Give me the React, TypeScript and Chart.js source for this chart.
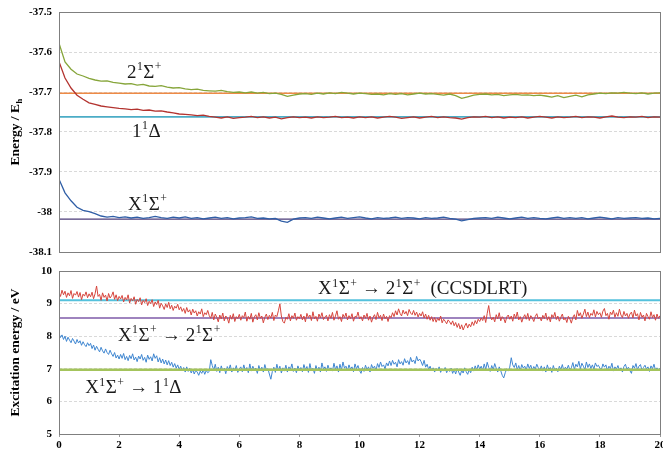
import { useEffect, useRef } from "react";
import { Chart, registerables } from "chart.js";
Chart.register(...registerables);

const FAMILY = '"Liberation Serif", "DejaVu Serif", serif';

// ---------- top panel data (t = 0, 0.2, ..., 20) ----------
const TOP_STEP = 0.2;
const TOP_2SIGMA = [
  -37.578, -37.625, -37.643, -37.655, -37.660, -37.666,
  -37.670, -37.673, -37.672, -37.676, -37.678,
  -37.680, -37.679, -37.683, -37.681, -37.685,
  -37.686, -37.684, -37.688, -37.690, -37.689,
  -37.692, -37.694, -37.693, -37.696, -37.697,
  -37.698, -37.696, -37.699, -37.701, -37.700,
  -37.702, -37.700, -37.703, -37.701, -37.704,
  -37.703, -37.706, -37.711, -37.708, -37.705,
  -37.704, -37.706, -37.703, -37.705, -37.702,
  -37.704, -37.701, -37.703, -37.705, -37.703,
  -37.704, -37.706, -37.705, -37.707, -37.704,
  -37.706, -37.704, -37.707, -37.705, -37.703,
  -37.705, -37.704, -37.706, -37.708, -37.705,
  -37.709, -37.716, -37.712, -37.708, -37.706,
  -37.705, -37.707, -37.706, -37.709, -37.707,
  -37.706, -37.708, -37.707, -37.709, -37.708,
  -37.710, -37.713, -37.709, -37.714, -37.711,
  -37.708, -37.712, -37.707, -37.705, -37.703,
  -37.704, -37.702, -37.703, -37.701, -37.703,
  -37.704, -37.702, -37.705, -37.703, -37.702,
];
const TOP_1DELTA = [
  -37.624, -37.665, -37.690, -37.708, -37.718, -37.727,
  -37.731, -37.735, -37.737, -37.739, -37.741,
  -37.742, -37.744, -37.743, -37.746, -37.745,
  -37.748, -37.747, -37.750, -37.752, -37.755,
  -37.756, -37.757, -37.759, -37.758, -37.761,
  -37.763, -37.765, -37.762, -37.766, -37.764,
  -37.763, -37.761, -37.764, -37.762, -37.765,
  -37.763, -37.767, -37.764, -37.762, -37.764,
  -37.763, -37.765, -37.762, -37.764, -37.763,
  -37.761, -37.764, -37.763, -37.765, -37.762,
  -37.764, -37.762, -37.765, -37.763, -37.761,
  -37.763, -37.766, -37.764, -37.762, -37.765,
  -37.763, -37.761, -37.764, -37.762, -37.764,
  -37.765, -37.768, -37.764, -37.762, -37.763,
  -37.761, -37.764, -37.762, -37.765, -37.763,
  -37.764, -37.762, -37.765, -37.763, -37.761,
  -37.763, -37.765, -37.762, -37.764, -37.763,
  -37.761, -37.764, -37.762, -37.763, -37.765,
  -37.762, -37.760, -37.763, -37.764, -37.762,
  -37.763, -37.761, -37.764, -37.762, -37.763,
];
const TOP_XSIGMA = [
  -37.918, -37.952, -37.972, -37.988, -37.996, -37.999,
  -38.004, -38.010, -38.013, -38.011, -38.014,
  -38.012, -38.015, -38.013, -38.016, -38.014,
  -38.011, -38.014, -38.016, -38.013, -38.015,
  -38.012, -38.016, -38.014, -38.017, -38.015,
  -38.013, -38.016, -38.014, -38.017, -38.015,
  -38.014, -38.012, -38.016, -38.015, -38.017,
  -38.016, -38.023, -38.026, -38.018, -38.015,
  -38.014, -38.016, -38.013, -38.015, -38.017,
  -38.015, -38.013, -38.016, -38.014, -38.012,
  -38.015, -38.017, -38.014, -38.016, -38.015,
  -38.013, -38.016, -38.014, -38.015, -38.017,
  -38.014, -38.016, -38.015, -38.013, -38.016,
  -38.018, -38.022, -38.019, -38.016, -38.015,
  -38.014, -38.016, -38.013, -38.015, -38.017,
  -38.015, -38.013, -38.016, -38.014, -38.016,
  -38.017, -38.015, -38.013, -38.016, -38.014,
  -38.016, -38.014, -38.017, -38.015, -38.013,
  -38.015, -38.017, -38.014, -38.016, -38.015,
  -38.014, -38.016, -38.015, -38.017, -38.016,
];
const TOP_REF_2SIGMA = -37.703;
const TOP_REF_1DELTA = -37.762;
const TOP_REF_XSIGMA = -38.018;
const TOP_Y_TICKS = [-38.1, -38, -37.9, -37.8, -37.7, -37.6, -37.5];

// ---------- bottom panel data (t = 0, 0.05, ..., 20) ----------
const BOT_STEP = 0.05;
const BOT_EXC_2SIGMA = [
  9.35,
  9.22, 9.41, 9.27, 9.38, 9.19, 9.33, 9.24, 9.40, 9.16, 9.31,
  9.26, 9.37, 9.20, 9.34, 9.12, 9.29, 9.23, 9.36, 9.18, 9.30,
  9.21, 9.35, 9.15, 9.30, 9.54, 9.22, 9.28, 9.10, 9.33, 9.19,
  9.26, 9.08, 9.31, 9.17, 9.24, 9.36, 9.13, 9.27, 9.09, 9.22,
  9.14, 9.25, 9.05, 9.19, 9.11, 9.27, 9.02, 9.16, 9.08, 9.21,
  8.98, 9.13, 9.06, 9.18, 8.96, 9.10, 9.03, 9.15, 8.94, 9.07,
  9.00, 9.12, 8.91, 9.05, 8.97, 9.10, 8.86, 9.01, 8.93, 8.82,
  8.99, 8.88, 9.04, 8.84, 8.95, 8.79, 8.92, 8.86, 8.98, 8.81,
  8.90, 8.76, 8.85, 8.70, 8.88, 8.74, 8.81, 8.65, 8.83, 8.71,
  8.78, 8.62, 8.75, 8.68, 8.84, 8.60, 8.72, 8.66, 8.79, 8.63,
  8.55, 8.73, 8.50, 8.68, 8.58, 8.44, 8.65, 8.53, 8.71, 8.47,
  8.62, 8.56, 8.40, 8.64, 8.52, 8.69, 8.45, 8.60, 8.54, 8.67,
  8.49, 8.63, 8.57, 8.74, 8.46, 8.61, 8.52, 8.70, 8.43, 8.59,
  8.66, 8.50, 8.72, 8.55, 8.62, 8.41, 8.58, 8.68, 8.51, 8.64,
  8.56, 8.73, 8.48, 8.65, 8.60, 8.78, 8.99, 8.62, 8.45, 8.40,
  8.58, 8.52, 8.69, 8.47, 8.63, 8.55, 8.71, 8.49, 8.60, 8.54,
  8.67, 8.50, 8.62, 8.44, 8.70, 8.57, 8.65, 8.48, 8.75, 8.53,
  8.61, 8.46, 8.68, 8.56, 8.72, 8.51, 8.59, 8.64, 8.47, 8.66,
  8.55, 8.73, 8.49, 8.62, 8.78, 8.52, 8.60, 8.45, 8.67, 8.57,
  8.71, 8.50, 8.63, 8.54, 8.69, 8.46, 8.61, 8.58, 8.74, 8.53,
  8.60, 8.47, 8.65, 8.55, 8.70, 8.49, 8.62, 8.43, 8.58, 8.66,
  8.51, 8.73, 8.56, 8.64, 8.48, 8.68, 8.54, 8.61, 8.45, 8.63,
  8.57, 8.72, 8.60, 8.78, 8.65, 8.84, 8.70, 8.62, 8.80, 8.68,
  8.76, 8.63, 8.82, 8.71, 8.66, 8.79, 8.64, 8.74, 8.59, 8.70,
  8.62, 8.75, 8.56, 8.68, 8.52, 8.64, 8.49, 8.60, 8.45, 8.57,
  8.43, 8.55, 8.48, 8.62, 8.41, 8.52, 8.46, 8.38, 8.50, 8.44,
  8.36, 8.47, 8.32, 8.42, 8.27, 8.39, 8.22, 8.35, 8.19, 8.31,
  8.40, 8.25, 8.37, 8.29, 8.44, 8.33, 8.48, 8.38, 8.52, 8.45,
  8.56, 8.48, 8.63, 8.42, 8.70, 8.94, 8.61, 8.50, 8.58, 8.44,
  8.66, 8.53, 8.72, 8.47, 8.60, 8.55, 8.41, 8.59, 8.65, 8.52,
  8.62, 8.46, 8.68, 8.55, 8.74, 8.50, 8.60, 8.43, 8.57, 8.66,
  8.52, 8.70, 8.48, 8.63, 8.56, 8.45, 8.61, 8.69, 8.53, 8.58,
  8.47, 8.64, 8.54, 8.71, 8.49, 8.60, 8.44, 8.66, 8.57, 8.73,
  8.51, 8.62, 8.46, 8.58, 8.68, 8.50, 8.56, 8.42, 8.61, 8.53,
  8.40, 8.58, 8.66, 8.50, 8.79, 8.62, 8.72, 8.55, 8.68, 8.83,
  8.60, 8.74, 8.57, 8.70, 8.64, 8.81, 8.59, 8.76, 8.66, 8.72,
  8.58, 8.77, 8.85, 8.63, 8.70, 8.52, 8.74, 8.66, 8.80, 8.58,
  8.72, 8.61, 8.83, 8.65, 8.57, 8.76, 8.62, 8.70, 8.55, 8.68,
  8.74, 8.56, 8.80, 8.62, 8.69, 8.50, 8.73, 8.58, 8.65, 8.47,
  8.70, 8.60, 8.52, 8.75, 8.57, 8.66, 8.49, 8.68, 8.55, 8.63,
];
const BOT_EXC_1DELTA = [
  8.08,
  7.96, 8.04, 7.90, 8.00, 7.84, 7.97, 7.88, 7.80, 7.93, 7.85,
  7.76, 7.90, 7.79, 7.86, 7.72, 7.83, 7.74, 7.68, 7.80, 7.71,
  7.78, 7.62, 7.73, 7.57, 7.69, 7.60, 7.52, 7.66, 7.55, 7.48,
  7.61, 7.50, 7.44, 7.57, 7.46, 7.38, 7.50, 7.33, 7.42, 7.30,
  7.44, 7.32, 7.47, 7.28, 7.38, 7.25, 7.41, 7.31, 7.46, 7.27,
  7.36, 7.22, 7.39, 7.30, 7.44, 7.26, 7.35, 7.20, 7.42, 7.29,
  7.37, 7.24, 7.46, 7.32, 7.40, 7.21, 7.34, 7.18, 7.30, 7.15,
  7.27, 7.12, 7.25, 7.10, 7.20, 7.05, 7.16, 7.02, 7.12, 6.98,
  7.08, 6.94, 7.04, 6.90, 7.06, 6.92, 7.01, 6.87, 6.98, 6.84,
  6.95, 6.90, 6.80, 6.93, 6.86, 6.97, 6.83, 6.95, 6.88, 6.92,
  7.28, 7.10, 6.96, 7.14, 6.92, 7.05, 6.88, 7.09, 6.94, 7.02,
  6.85, 7.07, 6.97, 7.12, 6.90, 7.03, 6.95, 7.10, 6.89, 7.00,
  7.06, 6.91, 7.12, 6.95, 7.04, 6.88, 7.15, 6.93, 7.08, 6.97,
  7.02, 6.86, 7.10, 6.94, 7.05, 6.90, 7.13, 6.96, 7.01, 6.84,
  6.68, 6.92, 7.05, 6.89, 7.14, 6.95, 7.08, 6.87, 7.03, 6.93,
  7.11, 6.90, 7.06, 6.98, 7.15, 6.92, 7.02, 6.88, 7.09, 6.96,
  7.04, 6.91, 7.13, 6.97, 7.07, 6.89, 7.16, 6.94, 7.02, 6.86,
  7.10, 6.95, 7.05, 6.90, 7.18, 6.99, 7.06, 6.92, 7.11, 6.97,
  7.03, 6.93, 7.17, 6.98, 7.09, 6.90, 7.14, 6.96, 7.21, 7.02,
  7.08, 6.94, 7.12, 6.99, 7.06, 6.91, 7.15, 7.00, 7.10, 6.95,
  6.86, 7.04, 6.92, 7.11, 6.97, 7.06, 6.90, 7.13, 7.01, 7.08,
  6.95, 7.16, 7.04, 7.21, 7.07, 7.12, 7.00, 7.18, 7.09, 7.24,
  7.10, 7.26, 7.14, 7.20, 7.06, 7.28, 7.15, 7.22, 7.11, 7.31,
  7.18, 7.25, 7.13, 7.35, 7.21, 7.27, 7.16, 7.38, 7.24, 7.30,
  7.22, 7.10, 7.26, 7.05, 7.14, 6.98, 7.08, 6.94, 7.03, 6.90,
  7.01, 6.95, 7.06, 6.89, 7.00, 6.93, 7.04, 6.88, 6.99, 6.92,
  7.02, 6.86, 6.98, 6.84, 7.01, 6.90, 6.80, 6.95, 6.87, 7.03,
  6.91, 6.83, 6.97, 6.88, 7.05, 6.93, 7.09, 6.96, 7.12, 6.99,
  7.08, 6.95, 7.15, 6.98, 7.20, 7.04, 6.92, 7.10, 6.97, 7.16,
  7.02, 6.90, 7.06, 6.94, 6.80, 6.72, 6.88, 7.00, 6.93, 7.05,
  7.34, 7.12, 7.04, 7.18, 6.97, 7.10, 6.94, 7.13, 7.02, 7.08,
  6.96, 7.15, 7.01, 7.11, 6.95, 7.07, 6.99, 7.14, 7.03, 6.96,
  7.09, 6.93, 7.06, 6.90, 7.12, 6.97, 7.04, 6.89, 7.10, 6.95,
  7.02, 6.91, 7.08, 6.98, 7.13, 6.94, 7.05, 6.99, 7.11, 6.96,
  7.03, 7.19, 6.98, 7.14, 7.06, 7.23, 7.00, 7.17, 7.08, 6.97,
  7.21, 7.04, 7.15, 7.01, 7.12, 6.99, 7.18, 7.07, 7.11, 7.02,
  6.97, 7.15, 7.05, 7.12, 6.95, 7.08, 7.01, 7.17, 6.93, 7.06,
  6.99, 7.10, 6.96, 7.03, 6.90, 7.07, 7.14, 6.98, 7.05, 6.94,
  6.86, 7.10, 7.02, 7.16, 6.97, 7.08, 7.13, 6.95, 7.04, 7.11,
  6.99, 7.06, 6.92, 7.09, 7.00, 7.14, 6.96, 7.03, 6.98, 7.01,
];
const BOT_REF_CCSDLRT = 9.1;
const BOT_REF_2SIGMA = 8.56;
const BOT_REF_1DELTA = 6.97;
const BOT_Y_TICKS = [5, 6, 7, 8, 9, 10];
const X_TICKS = [0, 2, 4, 6, 8, 10, 12, 14, 16, 18, 20];

// text labels: [segment, 0 normal / 1 superscript / -1 subscript]
type Seg = [string, number];
const LBL_2SIGMA: Seg[] = [["2", 0], ["1", 1], ["Σ", 0], ["+", 1]];
const LBL_1DELTA: Seg[] = [["1", 0], ["1", 1], ["Δ", 0]];
const LBL_XSIGMA: Seg[] = [["X", 0], ["1", 1], ["Σ", 0], ["+", 1]];
const LBL_EXC_CC: Seg[] = [["X", 0], ["1", 1], ["Σ", 0], ["+", 1], [" → 2", 0], ["1", 1], ["Σ", 0], ["+", 1], ["  (CCSDLRT)", 0]];
const LBL_EXC_2S: Seg[] = [["X", 0], ["1", 1], ["Σ", 0], ["+", 1], [" → 2", 0], ["1", 1], ["Σ", 0], ["+", 1]];
const LBL_EXC_1D: Seg[] = [["X", 0], ["1", 1], ["Σ", 0], ["+", 1], [" → 1", 0], ["1", 1], ["Δ", 0]];
const TOP_LABELS = [
  { t: 2.26, v: -37.665, segs: LBL_2SIGMA },
  { t: 2.43, v: -37.8125, segs: LBL_1DELTA },
  { t: 2.3, v: -37.994, segs: LBL_XSIGMA },
];
const BOT_LABELS = [
  { t: 8.62, v: 9.28, segs: LBL_EXC_CC },
  { t: 1.96, v: 7.85, segs: LBL_EXC_2S },
  { t: 0.87, v: 6.25, segs: LBL_EXC_1D },
];
const TITLE_TOP_Y: Seg[] = [["Energy / E", 0], ["h", -1]];
const TITLE_BOT_Y: Seg[] = [["Excitation energy / eV", 0]];
const TITLE_X: Seg[] = [["Imaginary time / a.u.", 0]];

function segFont(size: number, weight: string, kind: number) {
  const s = kind === 0 ? size : size * 0.62;
  return `${weight} ${s}px ${FAMILY}`;
}
function richWidth(ctx: CanvasRenderingContext2D, segs: Seg[], size: number, weight: string) {
  let w = 0;
  for (const [t, k] of segs) {
    ctx.font = segFont(size, weight, k);
    w += ctx.measureText(t).width + (k !== 0 ? 1 : 0);
  }
  return w;
}
function drawRich(ctx: CanvasRenderingContext2D, segs: Seg[], x: number, y: number, size: number, weight: string, center: boolean, color: string) {
  ctx.save();
  ctx.fillStyle = color;
  ctx.textBaseline = "alphabetic";
  ctx.textAlign = "left";
  let cx = center ? x - richWidth(ctx, segs, size, weight) / 2 : x;
  for (const [t, k] of segs) {
    ctx.font = segFont(size, weight, k);
    const dy = k === 1 ? -size * 0.4 : k === -1 ? size * 0.22 : 0;
    if (k !== 0) cx += 0.5;
    ctx.fillText(t, cx, y + dy);
    cx += ctx.measureText(t).width + (k !== 0 ? 0.5 : 0);
  }
  ctx.restore();
}

type Lbl = { t: number; v: number; segs: Seg[] };
function makePlugin(labels: Lbl[], yTitle: Seg[], xTitle: Seg[] | null, xTitleY: number) {
  return {
    id: "decor",
    afterDatasetsDraw(chart: any) {
      const ctx: CanvasRenderingContext2D = chart.ctx;
      const a = chart.chartArea;
      const xs = chart.scales.x;
      const ys = chart.scales.y;
      for (const l of labels) {
        drawRich(ctx, l.segs, xs.getPixelForValue(l.t), ys.getPixelForValue(l.v), 19, "normal", false, "#1a1a1a");
      }
      ctx.save();
      ctx.strokeStyle = "#7f7f7f";
      ctx.lineWidth = 1;
      ctx.strokeRect(Math.round(a.left) + 0.5, Math.round(a.top) + 0.5, Math.round(a.right - a.left), Math.round(a.bottom - a.top));
      ctx.restore();
      ctx.save();
      ctx.translate(14, (a.top + a.bottom) / 2);
      ctx.rotate(-Math.PI / 2);
      drawRich(ctx, yTitle, 0, 5, 13.5, "bold", true, "#000");
      ctx.restore();
      if (xTitle) drawRich(ctx, xTitle, 343, xTitleY, 13.5, "bold", true, "#000");
    },
  };
}

function series(values: number[], step: number) {
  return values.map((v, i) => ({ x: Math.round(i * step * 100) / 100, y: v }));
}
function hline(v: number) {
  return [{ x: 0, y: v }, { x: 20, y: v }];
}

const tickFont = { family: FAMILY, size: 11, weight: "bold" as const };

export default function App() {
  const topRef = useRef<HTMLCanvasElement>(null);
  const botRef = useRef<HTMLCanvasElement>(null);

  useEffect(() => {
    const line = (data: any[], color: string, width: number) => ({
      data, borderColor: color, borderWidth: width, pointRadius: 0, fill: false, tension: 0,
    });
    const top = new Chart(topRef.current!, {
      type: "line",
      data: {
        datasets: [
          line(series(TOP_2SIGMA, TOP_STEP), "#86a53a", 1.3),
          line(series(TOP_1DELTA, TOP_STEP), "#b3332f", 1.3),
          line(series(TOP_XSIGMA, TOP_STEP), "#2f5ea6", 1.3),
          line(hline(TOP_REF_2SIGMA), "#ee8a45", 1.5),
          line(hline(TOP_REF_1DELTA), "#4bacc6", 1.8),
          line(hline(TOP_REF_XSIGMA), "#4b3b78", 1.3),
        ],
      },
      options: {
        animation: false,
        responsive: false,
        maintainAspectRatio: false,
        layout: { padding: { top: 12, bottom: 10, left: 0, right: 3 } },
        plugins: { legend: { display: false }, tooltip: { enabled: false } },
        scales: {
          x: { type: "linear", min: 0, max: 20, display: false },
          y: {
            min: -38.1, max: -37.5,
            afterBuildTicks: (s: any) => { s.ticks = TOP_Y_TICKS.map((v) => ({ value: v })); },
            afterFit: (s: any) => { s.width = 59; s.paddingTop = 0; s.paddingBottom = 0; },
            ticks: { font: tickFont, color: "#000", padding: 7, callback: (v: any) => String(Math.round(v * 10) / 10) },
            grid: { color: "#d9d9d9", drawTicks: false, lineWidth: 1 },
            border: { display: false, dash: [3, 2] },
          },
        },
      } as any,
      plugins: [makePlugin(TOP_LABELS, TITLE_TOP_Y, null, 0)],
    });

    const bot = new Chart(botRef.current!, {
      type: "line",
      data: {
        datasets: [
          line(hline(BOT_REF_1DELTA), "#a4c45c", 2.6),
          line(series(BOT_EXC_1DELTA, BOT_STEP), "#3f86d0", 1),
          line(series(BOT_EXC_2SIGMA, BOT_STEP), "#d6453d", 1),
          line(hline(BOT_REF_2SIGMA), "#7e5aa8", 1.6),
          line(hline(BOT_REF_CCSDLRT), "#55c1dc", 2),
        ],
      },
      options: {
        animation: false,
        responsive: false,
        maintainAspectRatio: false,
        layout: { padding: { top: 9, bottom: 0, left: 0, right: 3 } },
        plugins: { legend: { display: false }, tooltip: { enabled: false } },
        scales: {
          x: {
            type: "linear", min: 0, max: 20,
            afterBuildTicks: (s: any) => { s.ticks = X_TICKS.map((v) => ({ value: v })); },
            afterFit: (s: any) => { s.height = 34; s.paddingLeft = 0; s.paddingRight = 0; },
            ticks: { font: tickFont, color: "#000", padding: 2, maxRotation: 0, autoSkip: false },
            grid: { drawOnChartArea: false, drawTicks: true, tickLength: 3, color: "#9a9a9a" },
            border: { display: false },
          },
          y: {
            min: 5, max: 10,
            afterBuildTicks: (s: any) => { s.ticks = BOT_Y_TICKS.map((v) => ({ value: v })); },
            afterFit: (s: any) => { s.width = 59; s.paddingTop = 0; s.paddingBottom = 0; },
            ticks: { font: tickFont, color: "#000", padding: 7 },
            grid: { color: "#d9d9d9", drawTicks: false, lineWidth: 1 },
            border: { display: false, dash: [3, 2] },
          },
        },
      } as any,
      plugins: [makePlugin(BOT_LABELS, TITLE_BOT_Y, TITLE_X, 466)],
    });
    return () => { top.destroy(); bot.destroy(); };
  }, []);

  return (
    <div style={{ position: "absolute", left: 0, top: 0, width: 663, height: 468, background: "#fff" }}>
      <canvas ref={topRef} width={663} height={262} style={{ position: "absolute", left: 0, top: 0, width: 663, height: 262 }} />
      <canvas ref={botRef} width={663} height={206} style={{ position: "absolute", left: 0, top: 262, width: 663, height: 206 }} />
    </div>
  );
}
